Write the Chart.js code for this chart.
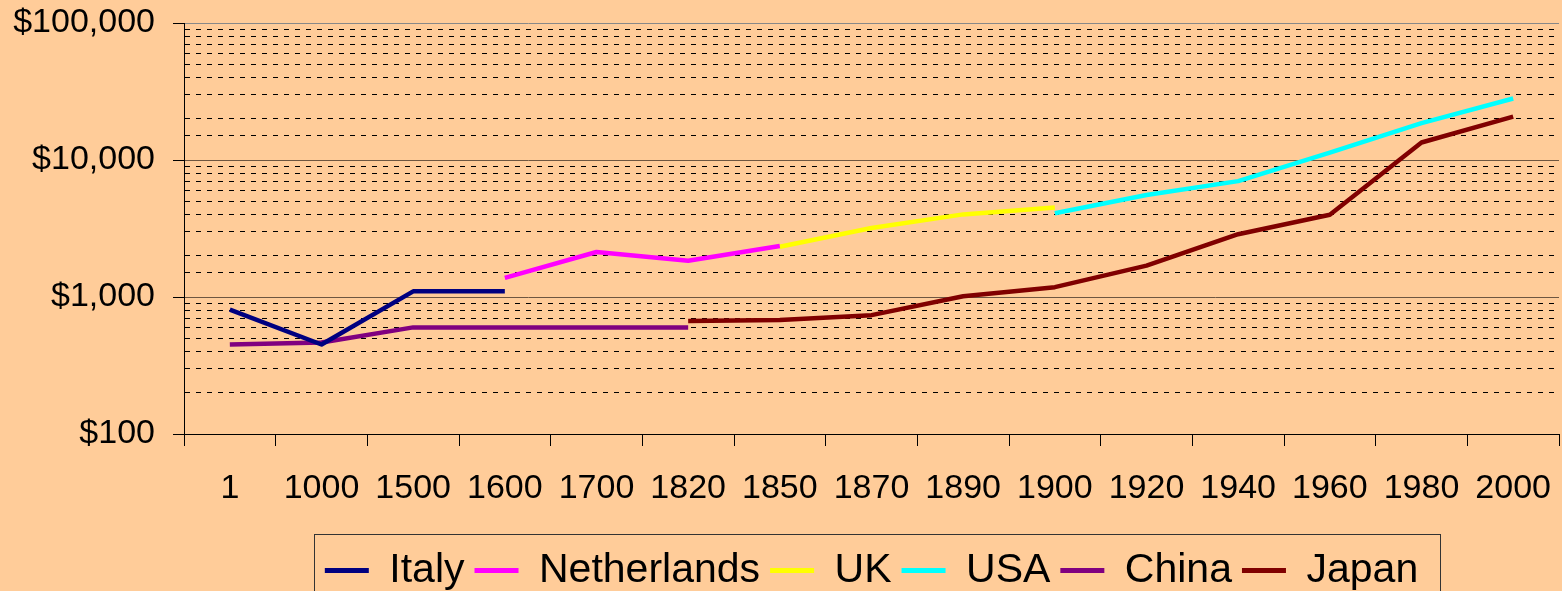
<!DOCTYPE html>
<html>
<head>
<meta charset="utf-8">
<script src="https://cdn.jsdelivr.net/npm/chart.js@4.4.1/dist/chart.umd.min.js"></script>
<style>
  html, body { margin: 0; padding: 0; background: #FFCC99; overflow: hidden; width: 1562px; height: 591px; }
  canvas { display: block; }
</style>
</head>
<body>
<canvas id="c" width="1562" height="601"></canvas>
<script>
const categories = ['1','1000','1500','1600','1700','1820','1850','1870','1890','1900','1920','1940','1960','1980','2000'];

const italy       = [809, 450, 1100, 1100, null, null, null, null, null, null, null, null, null, null, null];
const netherlands = [null, null, null, 1381, 2130, 1838, 2355, null, null, null, null, null, null, null, null];
const uk          = [null, null, null, null, null, null, 2330, 3190, 4009, 4492, null, null, null, null, null];
const usa         = [null, null, null, null, null, null, null, null, null, 4091, 5552, 7010, 11328, 18577, 28129];
const china       = [450, 466, 600, 600, 600, 600, null, null, null, null, null, null, null, null, null];
const japan       = [null, null, null, null, null, 669, 679, 737, 1012, 1180, 1696, 2874, 3986, 13428, 20738];

const yMin = 100, yMax = 100000;

const FONT = "'Liberation Sans', Arial, sans-serif";

function isMajor(v) {
  const l = Math.log10(v);
  return Math.abs(l - Math.round(l)) < 1e-9;
}

function ds(label, data, color) {
  return {
    label, data,
    borderColor: color, backgroundColor: color,
    borderWidth: 4.5, pointRadius: 0, pointHoverRadius: 0,
    spanGaps: false, tension: 0, fill: false,
    borderCapStyle: 'butt', borderJoinStyle: 'round'
  };
}

const legendBorder = {
  id: 'legendBorder',
  afterDraw(chart) {
    const hb = chart.legend && chart.legend.legendHitBoxes;
    if (!hb || !hb.length) return;
    const first = hb[0], last = hb[hb.length - 1];
    const ctx = chart.ctx;
    const left = Math.round(first.left - 11) + 0.5;
    const right = Math.round(last.left + last.width + 22) + 0.5;
    const top = Math.round(first.top - 16) + 0.5;
    const bottom = chart.height + 5;
    ctx.save();
    ctx.strokeStyle = '#333333';
    ctx.lineWidth = 1;
    ctx.strokeRect(left, top, right - left, bottom - top);
    ctx.restore();
  }
};

new Chart(document.getElementById('c'), {
  type: 'line',
  data: {
    labels: categories,
    datasets: [
      ds('Italy', italy, '#000080'),
      ds('Netherlands', netherlands, '#FF00FF'),
      ds('UK', uk, '#FFFF00'),
      ds('USA', usa, '#00FFFF'),
      ds('China', china, '#800080'),
      ds('Japan', japan, '#800000')
    ]
  },
  options: {
    responsive: false,
    animation: false,
    devicePixelRatio: 1,
    layout: { padding: { top: 23, right: 3, left: 0, bottom: 0 } },
    plugins: {
      tooltip: { enabled: false },
      legend: {
        position: 'bottom',
        fullSize: false,
        labels: {
          color: '#000',
          font: { family: FONT, size: 41 },
          boxWidth: 44,
          boxHeight: 5,
          padding: 10,
          generateLabels: (chart) => Chart.defaults.plugins.legend.labels.generateLabels(chart)
            .map(l => Object.assign({}, l, { fillStyle: l.strokeStyle, lineWidth: 0 }))
        }
      }
    },
    scales: {
      x: {
        type: 'category',
        offset: true,
        grid: {
          offset: true,
          drawOnChartArea: true,
          drawTicks: true,
          tickLength: 12,
          tickColor: '#000',
          color: (ctx) => ctx.index === categories.length ? '#888888' : 'rgba(0,0,0,0)',
          lineWidth: 1
        },
        border: { display: true, color: '#000', width: 1 },
        ticks: {
          color: '#000',
          font: { family: FONT, size: 34 },
          padding: 22,
          maxRotation: 0,
          autoSkip: false
        },
        afterFit: (s) => { s.height = 106; s.paddingLeft = 0; s.paddingRight = 0; }
      },
      y: {
        type: 'logarithmic',
        min: yMin,
        max: yMax,
        grid: {
          drawTicks: true,
          tickLength: 11,
          tickColor: (ctx) => (ctx.tick && isMajor(ctx.tick.value)) ? '#000' : 'rgba(0,0,0,0)',
          color: (ctx) => {
            if (!ctx.tick) return '#000';
            if (ctx.tick.value >= yMax) return '#888888';
            return isMajor(ctx.tick.value) ? '#6e5640' : '#000';
          },
          lineWidth: 1
        },
        border: {
          display: true, color: '#000', width: 1,
          dash: (ctx) => (ctx.tick && !isMajor(ctx.tick.value)) ? [5, 6] : []
        },
        ticks: {
          color: '#000',
          font: { family: FONT, size: 34 },
          padding: 18,
          autoSkip: false,
          callback: (v) => isMajor(v) ? '$' + Number(v).toLocaleString('en-US') : ''
        },
        afterFit: (s) => { s.width = 184; s.paddingTop = 0; s.paddingBottom = 0; }
      }
    }
  },
  plugins: [legendBorder]
});
</script>
</body>
</html>
